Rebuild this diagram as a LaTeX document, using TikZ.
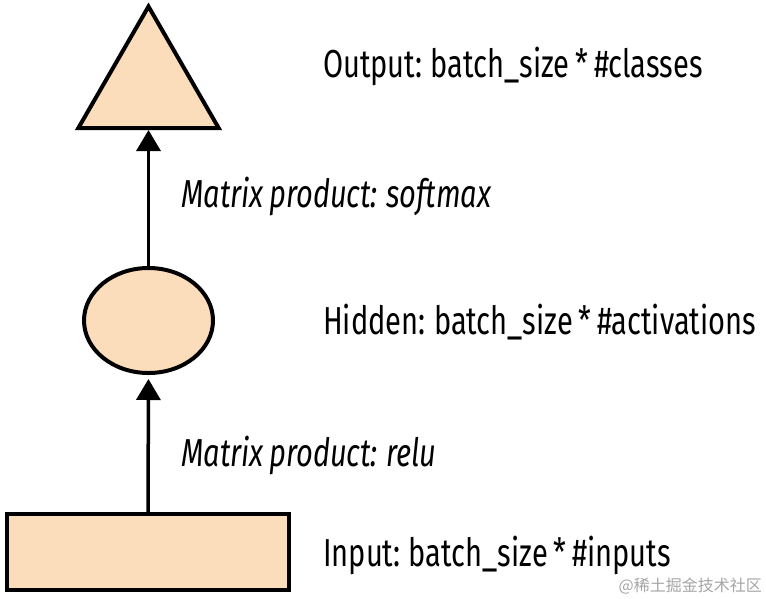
\documentclass[tikz,border=0pt]{standalone}
\usepackage{fontspec}
\setmainfont[FakeStretch=0.745,WordSpace=0.75]{Fira Sans}
\newfontfamily\cjkwm{Noto Sans CJK SC}
\usetikzlibrary{shapes.geometric,arrows.meta}
\definecolor{peach}{RGB}{252,221,187}
\definecolor{wmgray}{RGB}{165,165,165}
\begin{document}
\begin{tikzpicture}[x=1pt,y=-1pt,
  layer/.style={draw=black,fill=peach,line width=4pt,inner sep=0pt,outer sep=0pt},
  lbl/.style={anchor=base west,inner sep=0pt,font=\fontsize{39}{42}\selectfont},
  ilbl/.style={lbl,font=\fontsize{39}{42}\selectfont\itshape},
  conn/.style={line width=3.5pt,-{Triangle[width=24pt,length=21pt]}}]
\useasboundingbox (0,0) rectangle (766,598);
\node[layer,regular polygon,regular polygon sides=3,minimum size=162pt] (out) at (148.5,87.5) {};
\node[layer,ellipse,minimum width=129pt,minimum height=105pt] (hid) at (148.5,320.5) {};
\node[layer,rectangle,minimum width=282pt,minimum height=76pt] (inp) at (148,552) {};
\draw[conn,shorten >=2pt] (hid.north) -- (out.south);
\draw[conn,shorten >=6pt] (inp.north) -- (hid.south);
\node[lbl] (tout) at (323,77) {Output: batch\_size * \#classes};
\node[ilbl] (tsoft) at (181,207) {Matrix product: softmax};
\node[lbl] (thid) at (323,334) {Hidden: batch\_size * \#activations};
\node[ilbl] (trelu) at (181,466) {Matrix product: relu};
\node[lbl] (tinp) at (323,566) {Input: batch\_size * \#inputs};
\node[anchor=east,inner sep=0pt,text=wmgray,font=\cjkwm\fontsize{16}{17}\selectfont] (wm) at (762,586) {@稀土掘金技术社区};
\end{tikzpicture}
\end{document}
